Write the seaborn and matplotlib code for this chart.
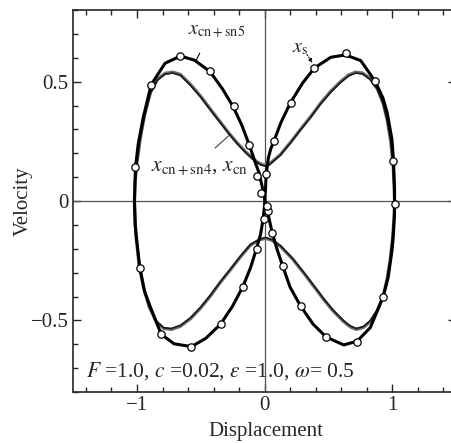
import matplotlib
matplotlib.use("Agg")
import matplotlib.pyplot as plt
import pandas as pd
import seaborn as sns
from matplotlib.ticker import MultipleLocator

# ---- data: phase trajectories (displacement, velocity) ----
# x_cn+sn5 : closed orbit, passes through the origin twice (figure of eight)
sn5_x = [-1.020, -1.015, -0.978, -0.940, -0.894, -0.810, -0.710, -0.573, -0.460,
         -0.345, -0.250, -0.170, -0.110, -0.063, -0.031, -0.012, 0.000, 0.007,
         0.013, 0.030, 0.050, 0.073, 0.130, 0.204, 0.300, 0.392, 0.520, 0.635,
         0.755, 0.866, 0.930, 0.962, 1.000, 1.012, 1.020, 1.020, 1.010, 1.000,
         0.970, 0.931, 0.830, 0.727, 0.622, 0.484, 0.380, 0.282, 0.200, 0.144,
         0.100, 0.060, 0.030, 0.015, 0.000, -0.018, -0.044, -0.075, -0.118,
         -0.180, -0.246, -0.330, -0.429, -0.550, -0.659, -0.780, -0.889, -0.951,
         -0.990, -1.012, -1.020]
sn5_v = [0.000, -0.100, -0.280, -0.380, -0.446, -0.558, -0.598, -0.610, -0.575,
         -0.516, -0.440, -0.359, -0.280, -0.200, -0.140, -0.080, -0.020, 0.040,
         0.110, 0.180, 0.220, 0.250, 0.330, 0.412, 0.495, 0.557, 0.602, 0.612,
         0.588, 0.503, 0.430, 0.370, 0.257, 0.166, 0.050, -0.050, -0.150, -0.207,
         -0.320, -0.401, -0.530, -0.587, -0.603, -0.570, -0.515, -0.439, -0.360,
         -0.274, -0.205, -0.132, -0.060, -0.025, 0.010, 0.060, 0.120, 0.165,
         0.233, 0.320, 0.395, 0.470, 0.543, 0.590, 0.607, 0.577, 0.487, 0.350,
         0.240, 0.142, 0.000]

# x_cn+sn4 : closed orbit pinched near (0, +-0.15)
sn4_x = [-0.030, 0.000, 0.034, 0.125, 0.210, 0.282, 0.360, 0.440, 0.520, 0.596,
         0.660, 0.715, 0.770, 0.830, 0.885, 0.930, 0.962, 0.990, 1.010, 1.020,
         1.015, 1.003, 0.985, 0.960, 0.930, 0.884, 0.830, 0.775, 0.720, 0.675,
         0.622, 0.540, 0.466, 0.390, 0.308, 0.220, 0.125, 0.060, 0.008, -0.040,
         -0.110, -0.190, -0.267, -0.345, -0.424, -0.500, -0.580, -0.660, -0.730,
         -0.790, -0.850, -0.907, -0.950, -0.985, -1.008, -1.020, -1.015, -1.000,
         -0.975, -0.940, -0.894, -0.840, -0.780, -0.720, -0.659, -0.580, -0.502,
         -0.420, -0.345, -0.280, -0.214, -0.150, -0.096, -0.060, -0.030]
sn4_v = [0.155, 0.150, 0.153, 0.195, 0.250, 0.300, 0.352, 0.410, 0.460, 0.500,
         0.528, 0.540, 0.536, 0.512, 0.470, 0.410, 0.340, 0.250, 0.140, 0.000,
         -0.080, -0.160, -0.250, -0.330, -0.400, -0.460, -0.505, -0.530, -0.538,
         -0.528, -0.506, -0.462, -0.414, -0.360, -0.302, -0.243, -0.190, -0.165,
         -0.156, -0.163, -0.185, -0.235, -0.288, -0.340, -0.398, -0.448, -0.493,
         -0.525, -0.538, -0.534, -0.505, -0.440, -0.360, -0.260, -0.150, 0.000,
         0.080, 0.160, 0.260, 0.360, 0.455, 0.510, 0.535, 0.540, 0.530, 0.488,
         0.440, 0.382, 0.330, 0.285, 0.243, 0.207, 0.180, 0.165, 0.155]

# x_cn : practically coincides with x_cn+sn4
cn_x = sn4_x
cn_v = [0.152, 0.147, 0.150, 0.192, 0.247, 0.297, 0.349, 0.406, 0.456, 0.496,
        0.524, 0.536, 0.532, 0.509, 0.468, 0.408, 0.339, 0.249, 0.140, 0.000,
        -0.080, -0.159, -0.248, -0.328, -0.397, -0.456, -0.501, -0.526, -0.534,
        -0.524, -0.502, -0.458, -0.410, -0.356, -0.299, -0.240, -0.187, -0.162,
        -0.153, -0.160, -0.182, -0.232, -0.285, -0.337, -0.394, -0.444, -0.489,
        -0.521, -0.534, -0.531, -0.503, -0.438, -0.359, -0.259, -0.150, 0.000,
        0.080, 0.159, 0.258, 0.358, 0.452, 0.506, 0.531, 0.536, 0.526, 0.484,
        0.436, 0.378, 0.327, 0.282, 0.240, 0.204, 0.177, 0.162, 0.152]

# x_s : sampled points of the reference solution
s_x = [0.073, 0.204, 0.392, 0.640, 0.866, 1.006, 1.020, 0.931, 0.727, 0.486,
       0.284, 0.142, 0.060, 0.029, 0.016, -0.005, -0.060, -0.168, -0.345,
       -0.573, -0.810, -0.978, -1.012, -0.887, -0.659, -0.429, -0.243, -0.118,
       -0.060, -0.024, 0.010]
s_v = [0.250, 0.412, 0.557, 0.618, 0.503, 0.166, -0.013, -0.401, -0.589, -0.570,
       -0.439, -0.274, -0.132, -0.042, -0.021, -0.077, -0.200, -0.359, -0.516,
       -0.612, -0.557, -0.279, 0.142, 0.486, 0.608, 0.544, 0.396, 0.233, 0.104,
       0.035, 0.112]

params_text = r"$F$ =1.0, $c$ =0.02, $\varepsilon$ =1.0, $\omega$= 0.5"

# ---- style ----
sns.set_style("ticks")
plt.rcParams["font.family"] = ["Liberation Serif", "DejaVu Serif"]
plt.rcParams["mathtext.fontset"] = "stix"
plt.rcParams["axes.unicode_minus"] = True

fig = plt.figure(figsize=(4.51, 4.43), dpi=100)
W, H = 451, 443
ax = fig.add_axes([73.25 / W, (H - 392) / H, 382.5 / W, 382 / H])

ax.axhline(0, color="#555555", lw=0.9, zorder=1)
ax.axvline(0, color="#555555", lw=0.9, zorder=1)

df_sn4 = pd.DataFrame({"x": sn4_x, "v": sn4_v})
df_cn = pd.DataFrame({"x": cn_x, "v": cn_v})
df_sn5 = pd.DataFrame({"x": sn5_x, "v": sn5_v})
df_s = pd.DataFrame({"x": s_x, "v": s_v})

sns.lineplot(data=df_sn4, x="x", y="v", sort=False, estimator=None,
             color="#6e6e6e", lw=2.3, ax=ax, zorder=2)
sns.lineplot(data=df_cn, x="x", y="v", sort=False, estimator=None,
             color="#1a1a1a", lw=1.2, ax=ax, zorder=3)
sns.lineplot(data=df_sn5, x="x", y="v", sort=False, estimator=None,
             color="black", lw=2.2, ax=ax, zorder=4)
sns.scatterplot(data=df_s, x="x", y="v", marker="o", s=28, facecolor="white",
                edgecolor="black", linewidth=0.9, ax=ax, zorder=5)

# labels on the curves
ax.text(-0.376, 0.712, r"$x_{\mathrm{cn+sn5}}$", ha="center", va="center", fontsize=14.5)
ax.plot([-0.541, -0.508], [0.584, 0.619], color="black", lw=0.8)
ax.text(0.282, 0.640, r"$x_{\mathrm{s}}$", ha="center", va="center", fontsize=14.5)
ax.annotate("", xy=(0.387, 0.568), xytext=(0.322, 0.623),
            arrowprops=dict(arrowstyle="-|>", lw=0.8, ls=":", color="black",
                            mutation_scale=6))
ax.text(-0.506, 0.139, r"$x_{\mathrm{cn+sn4}}$, $x_{\mathrm{cn}}$", ha="center",
        va="center", fontsize=15.5)
ax.plot([-0.388, -0.270], [0.222, 0.278], color="#444444", lw=0.8)
ax.text(-1.40, -0.711, params_text, ha="left", va="center", fontsize=15.5)

# ---- axes ----
ax.set_xlim(-1.5, 1.5)
ax.set_ylim(-0.8, 0.8)
ax.set_xticks([-1, 0, 1])
ax.set_yticks([-0.5, 0, 0.5])
ax.set_xticklabels(["\u22121", "0", "1"])
ax.set_yticklabels(["\u22120.5", "0", "0.5"])
ax.xaxis.set_minor_locator(MultipleLocator(0.2))
ax.yaxis.set_minor_locator(MultipleLocator(0.1))
ax.tick_params(which="both", direction="in", top=True, right=True, width=1.0,
               labelsize=15)
ax.tick_params(which="major", length=6)
ax.tick_params(which="minor", length=3.5)
ax.tick_params(axis="x", pad=3)
for sp in ax.spines.values():
    sp.set_linewidth(1.2)

ax.set_xlabel("Displacement", fontsize=15)
ax.set_ylabel("Velocity", fontsize=15)
ax.xaxis.set_label_coords(0.504, -0.078)
ax.yaxis.set_label_coords(-0.105, 0.5)

fig.savefig("out.png", dpi=100)
